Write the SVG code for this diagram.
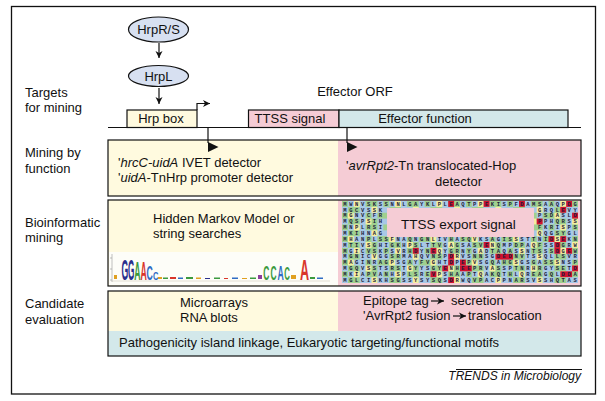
<svg xmlns="http://www.w3.org/2000/svg" width="605" height="401" viewBox="0 0 605 401">
<style>
.t{font-family:"Liberation Sans",Arial,sans-serif;font-size:13px;fill:#111}
.c{text-anchor:middle}
.i{font-style:italic}
.bx{stroke:#111;stroke-width:1.2}
.ln{stroke:#111;stroke-width:1.2;fill:none}
.sq{font-family:"Liberation Mono","DejaVu Sans Mono",monospace;font-size:5.5px;font-weight:bold;letter-spacing:2.6px;fill:#1c1c3a}
.rd{fill:#d0112f}
.lg{font-family:"Liberation Sans",Arial,sans-serif;font-weight:bold;font-size:28px}
</style>
<defs>
<marker id="ah" markerWidth="8" markerHeight="8" refX="7" refY="4" orient="auto" markerUnits="userSpaceOnUse">
<path d="M0,0.5 L7,4 L0,7.5 L2,4 Z" fill="#111"/>
</marker>
<pattern id="cells" patternUnits="userSpaceOnUse" x="342" y="201" width="41.3" height="23.44">
<rect width="41.3" height="23.44" fill="#a8c8e6"/>
<rect x="0" y="0" width="5.9" height="5.86" fill="#9fd08f"/>
<rect x="11.8" y="0" width="5.9" height="5.86" fill="#f6ee9e"/>
<rect x="23.6" y="0" width="11.8" height="5.86" fill="#9fd08f"/>
<rect x="5.9" y="5.86" width="11.8" height="5.86" fill="#9fd08f"/>
<rect x="29.5" y="5.86" width="5.9" height="5.86" fill="#f6ee9e"/>
<rect x="0" y="11.72" width="5.9" height="5.86" fill="#9fd08f"/>
<rect x="5.9" y="11.72" width="5.9" height="5.86" fill="#f6ee9e"/>
<rect x="23.6" y="11.72" width="5.9" height="5.86" fill="#9fd08f"/>
<rect x="35.4" y="11.72" width="5.9" height="5.86" fill="#9fd08f"/>
<rect x="5.9" y="17.58" width="11.8" height="5.86" fill="#9fd08f"/>
<rect x="23.6" y="17.58" width="5.9" height="5.86" fill="#f6ee9e"/>
<rect x="29.5" y="17.58" width="5.9" height="5.86" fill="#9fd08f"/>
</pattern>
</defs>

<rect x="11.5" y="6.5" width="584" height="387.5" fill="#fff" stroke="#111" stroke-width="1.3"/>

<g id="row-labels">
<text class="t" x="25" y="97">Targets</text>
<text class="t" x="25" y="112">for mining</text>
<text class="t" x="25" y="157">Mining by</text>
<text class="t" x="25" y="173">function</text>
<text class="t" x="25" y="227">Bioinformatic</text>
<text class="t" x="25" y="242">mining</text>
<text class="t" x="25" y="308">Candidate</text>
<text class="t" x="25" y="324">evaluation</text>
</g>

<g id="hrprs">
<ellipse cx="158.5" cy="29.5" rx="30" ry="12.5" fill="#d7e0f1" class="bx"/>
<text class="t c" x="158.5" y="34">HrpR/S</text>
</g>
<g id="hrpl">
<ellipse cx="158.5" cy="76" rx="30" ry="10.5" fill="#d7e0f1" class="bx"/>
<text class="t c" x="158.5" y="81">HrpL</text>
</g>

<g id="effector-orf">
<text class="t c" x="355" y="96">Effector ORF</text>
</g>
<g id="hrp-box">
<rect x="127" y="110" width="70" height="17.5" fill="#fffadf" class="bx"/>
<text class="t c" x="161" y="123">Hrp box</text>
</g>
<g id="ttss-signal">
<rect x="248.5" y="110" width="90.5" height="17.5" fill="#f5ccd5" class="bx"/>
<text class="t c" x="290" y="123">TTSS signal</text>
</g>
<g id="effector-function">
<rect x="339" y="110" width="229" height="17.5" fill="#d3e8ea" class="bx"/>
<text class="t c" x="425" y="123">Effector function</text>
</g>
<line x1="108" y1="127.5" x2="581" y2="127.5" class="ln"/>

<g id="mining-function">
<rect x="108" y="140" width="230" height="56" fill="#fffadf"/>
<rect x="338" y="140" width="243" height="56" fill="#f5ccd5"/>
<rect x="108" y="140" width="473" height="56" fill="none" class="bx"/>
<text class="t" x="118" y="167">'<tspan class="i">hrcC-uidA</tspan> IVET detector</text>
<text class="t" x="118" y="182">'<tspan class="i">uidA</tspan>-TnHrp promoter detector</text>
<text class="t" x="346" y="170">'<tspan class="i">avrRpt2</tspan>-Tn translocated-Hop</text>
<text class="t" x="435" y="186">detector</text>
</g>

<g id="bioinformatic">
<rect x="108" y="200" width="230" height="86" fill="#fffadf"/>
<rect x="338" y="200" width="243" height="86" fill="#f5ccd5"/>
<rect x="109" y="252" width="229" height="33" fill="#fdfdf8"/>
<text class="t" x="153" y="223">Hidden Markov Model or</text>
<text class="t" x="153" y="238">string searches</text>
<g id="logo">
<line x1="112" y1="254" x2="112" y2="282" stroke="#999" stroke-width="0.6"/>
<line x1="110" y1="258" x2="112" y2="258" stroke="#999" stroke-width="0.6"/>
<line x1="110" y1="269" x2="112" y2="269" stroke="#999" stroke-width="0.6"/>
<line x1="110" y1="280" x2="112" y2="280" stroke="#999" stroke-width="0.6"/>
<line x1="112" y1="281" x2="330" y2="281" stroke="#c9c3b0" stroke-width="0.5"/>
<rect x="114" y="275" width="3" height="4" fill="#e0a020"/>
<text class="lg" fill="#2a2f8c" transform="translate(121.5,279.5) scale(0.31,1.05)">G</text>
<text class="lg" fill="#2a2f8c" transform="translate(128,279.5) scale(0.29,1.05)">G</text>
<text class="lg" fill="#3b9a3e" transform="translate(134.2,279.5) scale(0.31,0.95)">A</text>
<text class="lg" fill="#d9352b" transform="translate(140.5,279.5) scale(0.31,0.9)">A</text>
<text class="lg" fill="#2f6cc4" transform="translate(146.5,279.5) scale(0.31,0.72)">C</text>
<text class="lg" fill="#2f6cc4" transform="translate(153,279.5) scale(0.27,0.4)">C</text>
<rect x="158" y="277" width="4" height="2" fill="#e0a020"/>
<rect x="163" y="277.5" width="5" height="1.5" fill="#3b9a3e"/>
<rect x="170" y="277" width="6" height="2" fill="#d9352b"/>
<rect x="178" y="277.5" width="5" height="1.5" fill="#2f6cc4"/>
<rect x="186" y="277" width="7" height="2" fill="#3b9a3e"/>
<rect x="196" y="277.5" width="5" height="1.5" fill="#e0a020"/>
<rect x="205" y="278" width="5" height="1" fill="#2a2f8c"/>
<rect x="214" y="277.5" width="6" height="1.5" fill="#3b9a3e"/>
<rect x="224" y="278" width="4" height="1" fill="#d9352b"/>
<rect x="232" y="277.5" width="6" height="1.5" fill="#2f6cc4"/>
<rect x="242" y="278" width="5" height="1" fill="#e0a020"/>
<rect x="250" y="277.5" width="6" height="1.5" fill="#3b9a3e"/>
<rect x="258" y="275" width="4" height="4" fill="#8a3c9a"/>
<text class="lg" fill="#3b9a3e" transform="translate(263.3,279.5) scale(0.3,0.72)">C</text>
<text class="lg" fill="#3b9a3e" transform="translate(270.5,279.5) scale(0.3,0.72)">C</text>
<text class="lg" fill="#2f6cc4" transform="translate(277.5,279.5) scale(0.31,0.72)">A</text>
<text class="lg" fill="#3b9a3e" transform="translate(284.3,279.5) scale(0.28,0.65)">C</text>
<rect x="291" y="275" width="5" height="4" fill="#e0a020"/>
<text class="lg" fill="#d9352b" transform="translate(300,279.5) scale(0.45,1.08)">A</text>
<rect x="310" y="277" width="5" height="2" fill="#3b9a3e"/>
<rect x="317" y="277.5" width="6" height="1.5" fill="#2f6cc4"/>
</g>
<g id="alignment">
<rect x="342" y="201" width="236" height="82" fill="url(#cells)"/>
<g class="rd">
<rect x="448.2" y="201" width="5.9" height="5.86"/>
<rect x="483.6" y="201" width="5.9" height="5.86"/>
<rect x="519" y="201" width="5.9" height="5.86"/>
<rect x="566.2" y="201" width="5.9" height="5.86"/>
<rect x="560.3" y="206.86" width="5.9" height="5.86"/>
<rect x="572.1" y="212.72" width="5.9" height="5.86"/>
<rect x="536.7" y="218.58" width="5.9" height="5.86"/>
<rect x="548.5" y="236.16" width="5.9" height="5.86"/>
<rect x="560.3" y="236.16" width="5.9" height="5.86"/>
<rect x="483.6" y="242.02" width="5.9" height="5.86"/>
<rect x="554.4" y="242.02" width="5.9" height="5.86"/>
<rect x="412.8" y="247.88" width="5.9" height="5.86"/>
<rect x="430.5" y="247.88" width="5.9" height="5.86"/>
<rect x="554.4" y="247.88" width="5.9" height="5.86"/>
<rect x="566.2" y="247.88" width="5.9" height="5.86"/>
<rect x="448.2" y="253.74" width="5.9" height="5.86"/>
<rect x="495.4" y="253.74" width="17.7" height="5.86"/>
<rect x="448.2" y="259.6" width="5.9" height="5.86"/>
<rect x="460" y="259.6" width="5.9" height="5.86"/>
<rect x="442.3" y="265.46" width="5.9" height="5.86"/>
<rect x="460" y="265.46" width="11.8" height="5.86"/>
<rect x="572.1" y="265.46" width="5.9" height="5.86"/>
<rect x="430.5" y="271.32" width="5.9" height="5.86"/>
<rect x="560.3" y="271.32" width="11.8" height="5.86"/>
<rect x="448.2" y="277.18" width="5.9" height="5.86"/>
</g>
<text class="sq" x="343.3" y="205.7">MWNVSKSSNNLGAYKLPLEAQTPPEKISPFDAMSAAQPDG</text>
<text class="sq" x="343.3" y="211.56">MGCVSSK</text>
<text class="sq" x="538" y="211.56">GRQLEVY</text>
<text class="sq" x="343.3" y="217.42">MGNVCFR</text>
<text class="sq" x="538" y="217.42">PSDASLD</text>
<text class="sq" x="343.3" y="223.28">MQSPSIH</text>
<text class="sq" x="538" y="223.28">PPHQRSS</text>
<text class="sq" x="343.3" y="229.14">MNPLRSI</text>
<text class="sq" x="538" y="229.14">FKRISPS</text>
<text class="sq" x="343.3" y="235">MKIHNAG</text>
<text class="sq" x="538" y="235">QQGSYGL</text>
<text class="sq" x="343.3" y="240.86">MHANPLSSFNAQNGNLIVHASQVKSAGISSSTTNIDSEKN</text>
<text class="sq" x="343.3" y="246.72">MTIVSGHIGKHPSLTTVGAGSASVENQMPDPAQFSSDGRW</text>
<text class="sq" x="343.3" y="252.58">MGICVSKPSVRHDYNEQYGRNYGADTAQASSNTSSSDGEW</text>
<text class="sq" x="343.3" y="258.44">MGNICVGGSRMAHQVNSPDRVSNNSGDEDNVTSSQLLSVR</text>
<text class="sq" x="343.3" y="264.3">MAGINRAGPSGAYFVGHTDPEPVSGQAHGSGSGASSSNSP</text>
<text class="sq" x="343.3" y="270.16">MGQVSSTSRSTGYYSGYENHEEPRVASSPTNRHRGYSETD</text>
<text class="sq" x="343.3" y="276.02">MKIAPVANHSPLSREVPSHAAPTQAKQTHLQREAGQLDDA</text>
<text class="sq" x="343.3" y="281.88">MGLCISKHSGSSYSYSQSDRWQVPACPPNARSVSSHQTAS</text>
</g>
<g id="ttss-export">
<rect x="387" y="208" width="147" height="29" fill="#f5ccd5"/>
<text class="t" x="401" y="229" style="font-size:13.5px">TTSS export signal</text>
</g>
<rect x="108" y="200" width="473" height="86" fill="none" class="bx"/>
</g>

<g id="candidate">
<rect x="108" y="291" width="230" height="40" fill="#fffadf"/>
<rect x="338" y="291" width="243" height="40" fill="#f5ccd5"/>
<rect x="108" y="331" width="473" height="25" fill="#d3e8ea"/>
<rect x="108" y="291" width="473" height="65" fill="none" class="bx"/>
<text class="t" x="180" y="307">Microarrays</text>
<text class="t" x="180" y="322">RNA blots</text>
<text class="t" x="363" y="305">Epitope tag</text>
<text class="t" x="451" y="305">secretion</text>
<text class="t" x="363" y="320">'AvrRpt2 fusion</text>
<text class="t" x="468" y="320">translocation</text>
<text class="t" x="119" y="347">Pathogenicity island linkage, Eukaryotic targeting/functional motifs</text>
</g>

<g id="connectors">
<line x1="159" y1="43" x2="159" y2="58" class="ln" marker-end="url(#ah)"/>
<line x1="159" y1="88" x2="159" y2="104" class="ln" marker-end="url(#ah)"/>
<path d="M197,110 V103.5 H210" class="ln" marker-end="url(#ah)"/>
<line x1="208" y1="127.5" x2="208" y2="143" class="ln"/>
<polygon points="208,142 218.5,147 208,152" fill="#111"/>
<line x1="347" y1="127.5" x2="347" y2="143" class="ln"/>
<polygon points="347,142 357.5,147 347,152" fill="#111"/>
<line x1="431" y1="301" x2="444" y2="301" class="ln" marker-end="url(#ah)"/>
<line x1="453" y1="316" x2="466" y2="316" class="ln" marker-end="url(#ah)"/>
</g>

<g id="credit">
<line x1="456" y1="369.5" x2="582" y2="369.5" stroke="#111" stroke-width="1"/>
<text class="t i" x="581" y="380" text-anchor="end" style="font-size:12px">TRENDS in Microbiology</text>
</g>
</svg>
